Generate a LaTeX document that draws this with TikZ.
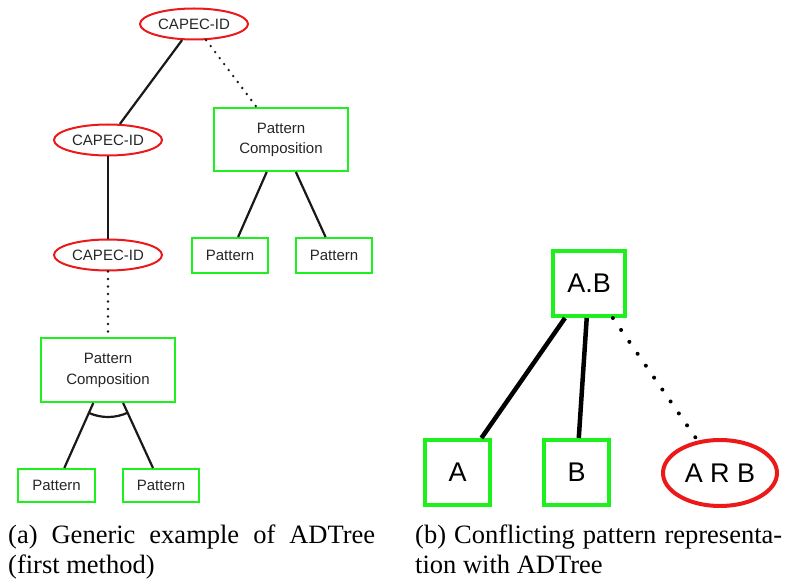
\documentclass[tikz,border=0pt]{standalone}
\usepackage{fontspec}
\setmainfont{Liberation Serif}
\newfontfamily\nodefont{Liberation Sans}
\usetikzlibrary{shapes.geometric,calc}
\definecolor{adgreen}{RGB}{30,240,30}
\definecolor{adred}{RGB}{235,25,25}

\begin{document}
\begin{tikzpicture}[x=1pt,y=-1pt,
  capec/.style={ellipse, draw=adred, line width=2pt, minimum width=108pt,
    minimum height=31pt, inner sep=0pt, text=black!85,
    font=\nodefont\fontsize{15}{21}\selectfont},
  patbox/.style={rectangle, draw=adgreen, line width=2pt, inner sep=0pt,
    align=center, text=black!85, font=\nodefont\fontsize{15}{21}\selectfont},
  bigbox/.style={rectangle, draw=adgreen, line width=4pt, inner sep=0pt,
    minimum width=65pt, minimum height=65pt,
    font=\nodefont\fontsize{27}{30}\selectfont},
  bigell/.style={ellipse, draw=adred, line width=4pt, inner sep=0pt,
    minimum width=114pt, minimum height=66pt,
    font=\nodefont\fontsize{27}{30}\selectfont},
  link/.style={line width=2.2pt, black!90},
  dotlink/.style={line width=2.6pt, black!90, line cap=round, dash pattern=on 0pt off 7.5pt},
  biglink/.style={line width=4.5pt, black},
  bigdot/.style={line width=4pt, black, line cap=round, dash pattern=on 0pt off 14.5pt},
  capt/.style={anchor=base west, inner sep=0pt, font=\fontsize{26.5}{30}\selectfont}]

\useasboundingbox (0,0) rectangle (786,585);

% (a) generic ADTree
\node[capec] (c1) at (194,24) {CAPEC-ID};
\node[capec] (c2) at (108,140) {CAPEC-ID};
\node[capec] (c3) at (108,255) {CAPEC-ID};
\node[patbox, minimum width=134pt, minimum height=63pt] (pc1) at (281,139.5) {\raisebox{-2pt}{\begin{tabular}{@{}c@{}}Pattern\\[-0.5pt]Composition\end{tabular}}};
\node[patbox, minimum width=76pt, minimum height=35pt] (p1) at (230,255.5) {Pattern};
\node[patbox, minimum width=76pt, minimum height=35pt] (p2) at (334,255.5) {Pattern};
\node[patbox, minimum width=134pt, minimum height=64pt] (pc2) at (108,370) {\raisebox{-2pt}{\begin{tabular}{@{}c@{}}Pattern\\[-0.5pt]Composition\end{tabular}}};
\node[patbox, minimum width=77pt, minimum height=33pt] (p3) at (56.5,485.5) {Pattern};
\node[patbox, minimum width=76pt, minimum height=33pt] (p4) at (161,485.5) {Pattern};

\draw[link] (c1) -- (c2);
\draw[link] (c2) -- (c3);
\draw[dotlink] (c1) -- (pc1);
\draw[link] (pc1) -- (p1);
\draw[link] (pc1) -- (p2);
\draw[dotlink] (c3) -- (pc2);
\draw[link] (pc2) -- (p3);
\draw[link] (pc2) -- (p4);
% conjunction arc below the lower composition
\draw[link] ($(pc2.center)+(246.8:47pt)$) arc[start angle=246.8, end angle=295.5, radius=47pt];

% (b) conflicting pattern
\node[bigbox, minimum width=72pt] (ab) at (589,283.5) {A.B};
\node[bigbox] (a) at (457.5,472.5) {A};
\node[bigbox] (b) at (576.5,472.5) {B};
\node[bigell] (arb) at (720,473) {A R B};

\draw[biglink] (ab) -- (a);
\draw[biglink] (ab) -- (b);
\draw[bigdot] (ab) -- (arb);

% captions
\node[capt] (capa1) at (8,543) {\makebox[367pt][s]{(a) Generic example of ADTree}};
\node[capt] (capa2) at (8,573) {(first method)};
\node[capt] (capb1) at (415,543) {\makebox[367pt][s]{(b) Conflicting pattern representa-}};
\node[capt] (capb2) at (415,573) {tion with ADTree};
\end{tikzpicture}
\end{document}
